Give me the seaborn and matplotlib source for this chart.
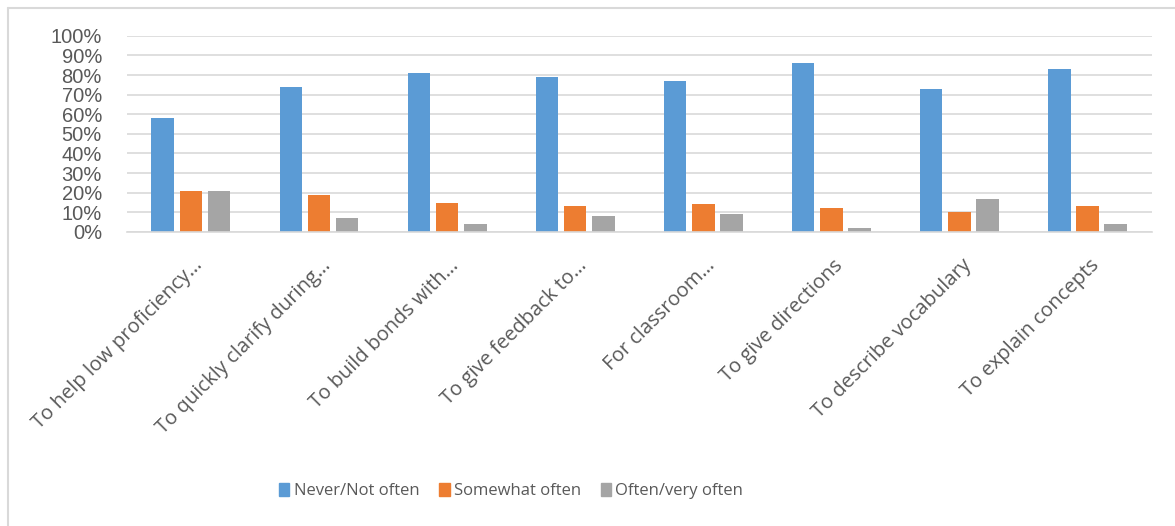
import pandas as pd
import matplotlib.pyplot as plt
import seaborn as sns
from matplotlib.lines import Line2D
from matplotlib.transforms import ScaledTranslation
from matplotlib.ticker import PercentFormatter

# ------------------------------
# Data
# ------------------------------
categories = [
    "To help low proficiency…",
    "To quickly clarify during…",
    "To build bonds with…",
    "To give feedback to…",
    "For classroom…",
    "To give directions",
    "To describe vocabulary",
    "To explain concepts",
]
never_not_often = [58, 74, 81, 79, 77, 86, 73, 83]
somewhat_often = [21, 19, 15, 13, 14, 12, 10, 13]
often_very_often = [21, 7, 4, 8, 9, 2, 17, 4]

series_names = ["Never/Not often", "Somewhat often", "Often/very often"]
colors = ["#5B9BD5", "#ED7D31", "#A5A5A5"]

df = pd.DataFrame({
    "category": categories * 3,
    "response": [series_names[0]] * 8 + [series_names[1]] * 8 + [series_names[2]] * 8,
    "value": never_not_often + somewhat_often + often_very_often,
})

# ------------------------------
# Plot
# ------------------------------
sns.set_style("white")
plt.rcParams['font.family'] = ['Open Sans', 'DejaVu Sans']
text_color = "#595959"

fig = plt.figure(figsize=(11.75, 5.26), dpi=100)
ax = fig.add_axes([0.108, 0.559, 0.872, 0.373])

sns.barplot(data=df, x="category", y="value", hue="response",
            palette=colors, saturation=1, width=0.66, gap=0.2, ax=ax,
            edgecolor="none", legend=False)

ax.set_ylim(0, 100)
ax.set_xlim(-0.5, len(categories) - 0.5)
ax.set_yticks(range(0, 101, 10))
ax.yaxis.set_major_formatter(PercentFormatter(decimals=0))
ax.yaxis.grid(True, color="#D9D9D9", linewidth=1.2)
ax.set_axisbelow(True)
for side in ["left", "right", "top"]:
    ax.spines[side].set_visible(False)
ax.spines["bottom"].set_color("#D9D9D9")
ax.spines["bottom"].set_linewidth(1.2)

ax.set_xlabel("")
ax.set_ylabel("")
ax.tick_params(axis="both", length=0, colors=text_color)
ax.tick_params(axis="x", labelsize=14.5, pad=4)
ax.tick_params(axis="y", pad=18)
shift = ScaledTranslation(0.02, -0.18, fig.dpi_scale_trans)
for lbl in ax.get_xticklabels():
    lbl.set_rotation(45)
    lbl.set_ha("right")
    lbl.set_va("top")
    lbl.set_rotation_mode("anchor")
    lbl.set_transform(lbl.get_transform() + shift)
for lbl in ax.get_yticklabels():
    lbl.set_fontfamily(['Liberation Sans', 'DejaVu Sans'])
    lbl.set_fontsize(14.5)

# legend
handles = [plt.Rectangle((0, 0), 1, 1, color=c) for c in colors]
fig.legend(handles, series_names, loc="center", bbox_to_anchor=(0.435, 0.066),
           ncol=3, frameon=False, fontsize=12, labelcolor=text_color,
           handlelength=0.62, handleheight=0.75, handletextpad=0.25,
           columnspacing=1.2)

# chart area border (left and top edges visible in the crop)
fig.add_artist(Line2D([8 / 1175, 8 / 1175], [0, 1 - 8 / 526],
                      transform=fig.transFigure, color="#D9D9D9", linewidth=1.5))
fig.add_artist(Line2D([8 / 1175, 1], [1 - 8 / 526, 1 - 8 / 526],
                      transform=fig.transFigure, color="#D9D9D9", linewidth=1.5))

fig.savefig("out.png", dpi=100)
